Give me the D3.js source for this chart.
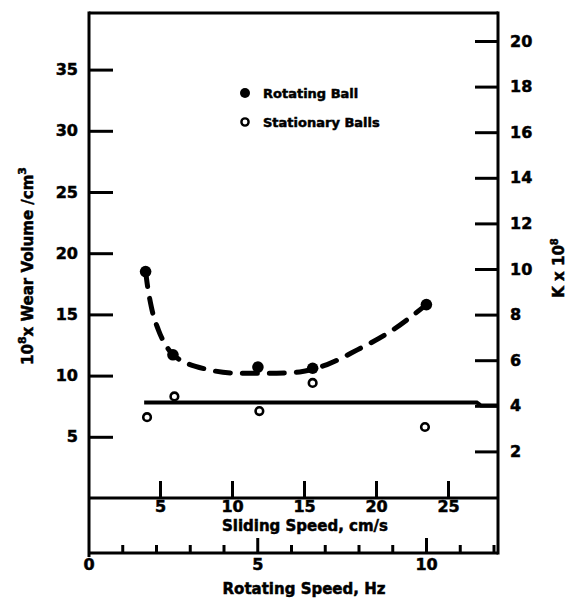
<!DOCTYPE html>
<html>
<head>
<meta charset="utf-8">
<script src="https://cdn.jsdelivr.net/npm/d3@7"></script>
<style>
  html, body { margin: 0; padding: 0; background: #fff; }
  svg { display: block; }
  text { font-family: "DejaVu Sans", "Liberation Sans", sans-serif; font-weight: bold; fill: #000;
         stroke: #000; stroke-width: 0.5px; }
</style>
</head>
<body>
<svg id="chart" width="569" height="599"></svg>
<script>
// Measured points: sliding speed (cm/s) against wear volume (10^8 x cm^3)
const rotatingSpeedX = [4.0, 5.9, 11.8, 15.6, 23.5];
const rotatingBall = [18.5, 11.7, 10.7, 10.6, 15.8];
const stationarySpeedX = [4.1, 6.0, 11.9, 15.6, 23.4];
const stationaryBalls = [6.6, 8.3, 7.1, 9.4, 5.8];

// Hand-drawn trend through the rotating-ball results
const rotatingTrend = [
  [4.0, 18.5], [4.1, 17.6], [4.4, 15.6], [4.9, 13.7], [5.5, 12.3], [5.9, 11.7],
  [8.3, 10.5], [10.4, 10.2], [13.1, 10.2], [14.7, 10.3], [16.6, 10.9],
  [18.7, 12.1], [21.0, 13.6], [23.5, 15.8]
];
// Mean level of the stationary-ball results
const stationaryTrend = [[3.9, 7.8], [27.0, 7.8], [27.3, 7.55], [28.5, 7.55]];

// Tick values
const leftTicks = [5, 10, 15, 20, 25, 30, 35];
const rightTicks = [2, 4, 6, 8, 10, 12, 14, 16, 18, 20];
const slidingTicks = [5, 10, 15, 20, 25];
const rotatingTicks = [0, 1, 2, 3, 4, 5, 6, 7, 8, 9, 10, 11, 12];
const rotatingLabelled = [0, 5, 10];

// Frame geometry
const frameLeft = 89, frameRight = 498, frameTop = 13, slideY = 498, rotY = 553;

const svg = d3.select("#chart");

const x = d3.scaleLinear().domain([0, 25]).range([88, 448]);
const xr = d3.scaleLinear().domain([0, 10]).range([88.5, 426]);
const yL = d3.scaleLinear().domain([0, 35]).range([498, 69.6]);
const yR = d3.scaleLinear().domain([0, 20]).range([497, 41]);

// Frame
const frame = svg.append("g").attr("stroke", "#000").attr("stroke-width", 3).attr("fill", "none");
frame.append("line").attr("x1", frameLeft).attr("x2", frameRight).attr("y1", frameTop).attr("y2", frameTop);
frame.append("line").attr("x1", frameLeft).attr("x2", frameLeft).attr("y1", frameTop - 1.5).attr("y2", rotY + 4);
frame.append("line").attr("x1", frameRight).attr("x2", frameRight).attr("y1", frameTop - 1.5).attr("y2", rotY + 1.5);
frame.append("line").attr("x1", frameLeft).attr("x2", frameRight).attr("y1", slideY).attr("y2", slideY);
frame.append("line").attr("x1", frameLeft).attr("x2", frameRight).attr("y1", rotY).attr("y2", rotY);

function styleAxis(g) {
  g.select(".domain").remove();
  g.selectAll(".tick line").attr("stroke", "#000").attr("stroke-width", 3);
  g.selectAll(".tick text").attr("font-size", 16).attr("fill", "#000");
}

// Left axis: wear volume
svg.append("g")
  .attr("transform", `translate(${frameLeft},0)`)
  .call(d3.axisLeft(yL).tickValues(leftTicks).tickSize(-24).tickSizeOuter(0).tickPadding(11))
  .call(styleAxis);

// Right axis: K x 10^8
svg.append("g")
  .attr("transform", `translate(${frameRight},0)`)
  .call(d3.axisRight(yR).tickValues(rightTicks).tickSize(-23).tickSizeOuter(0).tickPadding(12))
  .call(styleAxis);

// Sliding speed axis
svg.append("g")
  .attr("transform", `translate(0,${slideY})`)
  .call(d3.axisBottom(x).tickValues(slidingTicks).tickSize(-17).tickSizeOuter(0).tickPadding(3))
  .call(styleAxis);

// Rotating speed axis
const rotAxis = svg.append("g")
  .attr("transform", `translate(0,${rotY})`)
  .call(d3.axisBottom(xr).tickValues(rotatingTicks).tickSize(-8).tickSizeOuter(0).tickPadding(6)
    .tickFormat(d => rotatingLabelled.includes(d) ? d3.format("d")(d) : ""))
  .call(styleAxis);
rotAxis.selectAll(".tick line")
  .attr("y2", d => (d === 5 || d === 10) ? -15 : -8)
  .attr("display", d => d === 0 ? "none" : null);

// Axis titles
svg.append("text").attr("x", 305).attr("y", 531).attr("text-anchor", "middle")
  .attr("font-size", 15).text("Sliding Speed, cm/s");
svg.append("text").attr("x", 304).attr("y", 594).attr("text-anchor", "middle")
  .attr("font-size", 15).text("Rotating Speed, Hz");

const yTitle = svg.append("text").attr("transform", "translate(33,266) rotate(-90)")
  .attr("text-anchor", "middle").attr("font-size", 15);
yTitle.append("tspan").text("10");
yTitle.append("tspan").attr("dy", -7).attr("font-size", 11).text("8");
yTitle.append("tspan").attr("dy", 7).text("x Wear Volume /cm");
yTitle.append("tspan").attr("dy", -7).attr("font-size", 11).text("3");

const kTitle = svg.append("text").attr("transform", "translate(564,268) rotate(-90)")
  .attr("text-anchor", "middle").attr("font-size", 15);
kTitle.append("tspan").text("K x 10");
kTitle.append("tspan").attr("dy", -6).attr("font-size", 10).text("8");

// Trend lines
const line = d3.line().x(d => x(d[0])).y(d => yL(d[1]));
svg.append("path").datum(rotatingTrend)
  .attr("d", line.curve(d3.curveMonotoneX))
  .attr("fill", "none").attr("stroke", "#000").attr("stroke-width", 5)
  .attr("stroke-linecap", "round").attr("stroke-dasharray", "15,12");
svg.append("path").datum(stationaryTrend)
  .attr("d", d3.line().x(d => x(d[0])).y(d => yL(d[1]))(stationaryTrend))
  .attr("fill", "none").attr("stroke", "#000").attr("stroke-width", 4);

// Points
svg.append("g").selectAll("circle").data(rotatingBall).join("circle")
  .attr("cx", (d, i) => x(rotatingSpeedX[i])).attr("cy", d => yL(d))
  .attr("r", 5.8).attr("fill", "#000");
svg.append("g").selectAll("circle").data(stationaryBalls).join("circle")
  .attr("cx", (d, i) => x(stationarySpeedX[i])).attr("cy", d => yL(d))
  .attr("r", 3.8).attr("fill", "#fff").attr("stroke", "#000").attr("stroke-width", 2.6);

// Legend
const legend = svg.append("g").attr("transform", "translate(245,93)");
legend.append("circle").attr("cx", 0).attr("cy", 0).attr("r", 5).attr("fill", "#000");
legend.append("text").attr("x", 18).attr("y", 5).attr("font-size", 13).text("Rotating Ball");
legend.append("circle").attr("cx", 0).attr("cy", 29).attr("r", 3.6)
  .attr("fill", "#fff").attr("stroke", "#000").attr("stroke-width", 2.4);
legend.append("text").attr("x", 18).attr("y", 34).attr("font-size", 13).text("Stationary Balls");
</script>
</body>
</html>
